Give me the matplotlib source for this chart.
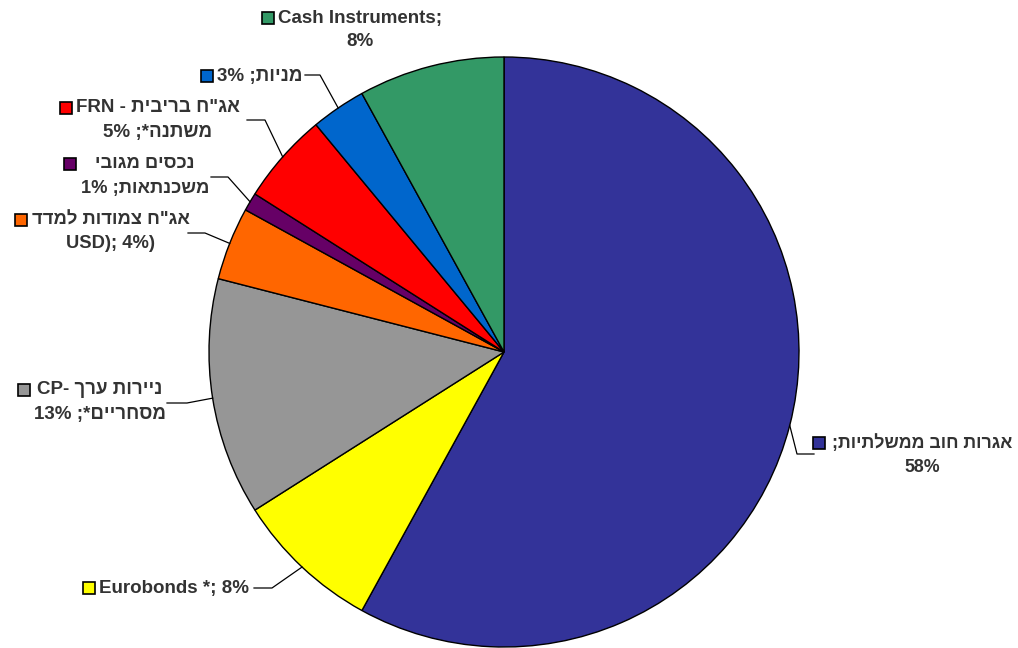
import matplotlib
matplotlib.use('Agg')
import matplotlib.pyplot as plt
from matplotlib.patches import Rectangle
import numpy as np


def heb(s):
    # text is laid out left to right, so Hebrew runs are stored reversed for display
    return s[::-1]


# portfolio shares (%), clockwise from 12 o'clock
shares = [58, 8, 13, 4, 1, 5, 3, 8]
colors = ['#333399', '#FFFF00', '#969696', '#FF6600',
          '#660066', '#FF0000', '#0066CC', '#339966']

# label lines, {v} is filled with the slice value
label_templates = [
    [heb('אגרות חוב ממשלתיות;'), '{v}%'],
    ['Eurobonds *; {v}%'],
    ['CP- ' + heb('ניירות ערך'), '{v}% ;' + heb('מסחריים*')],
    [heb('אג"ח צמודות למדד'), 'USD); {v}%)'],
    [heb('נכסים מגובי'), '{v}% ;' + heb('משכנתאות')],
    ['FRN - ' + heb('אג"ח בריבית'), '{v}% ;' + heb('משתנה*')],
    ['{v}% ;' + heb('מניות')],
    ['Cash Instruments;', '{v}%'],
]

# layout in pixels: text centre x, first line y, font size, key gap,
# leader points (text side first)
label_xy = [(922, 443), (174, 588), (100, 390), (111, 220),
            (145, 164), (158, 108), (260, 76), (360, 18)]
label_size = [12.8, 13.5, 13.5, 13.2, 13.2, 13.5, 13.5, 13.5]
key_gap = [7, 4, 4, 5, 5, 4, 4, 4]
leaders = [
    [(814, 454), (797, 454)],
    [(254, 588), (272, 588)],
    [(167, 403), (187, 403)],
    [(188, 233), (205, 233)],
    [(211, 177), (228, 177)],
    [(247, 120), (265, 120)],
    [(305, 75), (320, 75)],
    None,
]

W, H = 1018, 648
CX, CY, R = 504, 352, 295
LINE = 24
KEY = 12
TEXT_COLOR = '#333333'


def px(x, y):
    return (x - CX) / R, (CY - y) / R


fig = plt.figure(figsize=(W / 100, H / 100), dpi=100, facecolor='white')
ax = fig.add_axes([0, 0, 1, 1])

ax.pie(shares, colors=colors, startangle=90, counterclock=False, radius=1,
       wedgeprops=dict(edgecolor='black', linewidth=1.0))
ax.set_aspect('auto')
ax.set_xlim(-CX / R, (W - CX) / R)
ax.set_ylim((CY - H) / R, CY / R)
ax.axis('off')

# slice mid-angles on the rim, for the leader lines
cum = np.cumsum([0] + shares[:-1])
mids = np.deg2rad(90 - 360 * (cum + np.array(shares) / 2) / sum(shares))

fig.canvas.draw()
renderer = fig.canvas.get_renderer()

for i, v in enumerate(shares):
    cx, y0 = label_xy[i]
    texts = []
    for k, line in enumerate(label_templates[i]):
        tx, ty = px(cx, y0 + k * LINE)
        t = ax.text(tx, ty, line.format(v=v), ha='center', va='center',
                    fontsize=label_size[i], fontweight='bold', color=TEXT_COLOR,
                    family=['Liberation Sans', 'DejaVu Sans'])
        texts.append(t)

    # colour key to the left of the text block (axes span the whole figure,
    # so display x equals pixel x)
    left = min(t.get_window_extent(renderer).x0 for t in texts)
    kx, ky = px(left - key_gap[i] - KEY, y0 + KEY / 2)
    ax.add_patch(Rectangle((kx, ky), KEY / R, KEY / R,
                           facecolor=colors[i], edgecolor='black', linewidth=1.2,
                           zorder=5))

    if leaders[i] is not None:
        pts = [px(*p) for p in leaders[i]]
        pts.append((np.cos(mids[i]), np.sin(mids[i])))
        xs, ys = zip(*pts)
        ax.plot(xs, ys, color='black', linewidth=0.9, zorder=4)

fig.savefig('out.png', dpi=100, facecolor='white')
